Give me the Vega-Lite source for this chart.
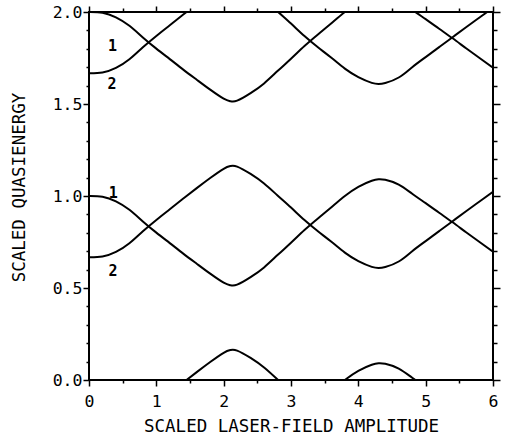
{
  "$schema": "https://vega.github.io/schema/vega-lite/v6.json",
  "width": 404,
  "height": 368,
  "autosize": {"type": "none"},
  "padding": {"left": 89, "top": 12, "right": 13, "bottom": 57},
  "background": "white",
  "config": {
    "view": {"stroke": "black", "strokeWidth": 2},
    "axis": {
      "domain": false, "tickColor": "black", "tickWidth": 1.5,
      "labelFont": "DejaVu Sans Mono", "labelFontSize": 16.5, "labelColor": "black",
      "titleFont": "DejaVu Sans Mono", "titleFontSize": 17.5, "titleFontWeight": "normal", "titleColor": "black",
      "grid": false, "labelOverlap": false, "labelFlush": false
    }
  },
  "datasets": {
    "curves": [
      {"s":"L1","x":0,"y":1.000},{"s":"L1","x":0.2,"y":0.996},{"s":"L1","x":0.4,"y":0.971},{"s":"L1","x":0.6,"y":0.925},{"s":"L1","x":0.8,"y":0.862},{"s":"L1","x":1.0,"y":0.801},{"s":"L1","x":1.2,"y":0.744},{"s":"L1","x":1.4,"y":0.687},{"s":"L1","x":1.6,"y":0.632},{"s":"L1","x":1.8,"y":0.578},{"s":"L1","x":2.0,"y":0.529},{"s":"L1","x":2.1,"y":0.515},{"s":"L1","x":2.2,"y":0.518},{"s":"L1","x":2.4,"y":0.559},{"s":"L1","x":2.6,"y":0.612},{"s":"L1","x":2.8,"y":0.679},{"s":"L1","x":3.0,"y":0.746},{"s":"L1","x":3.2,"y":0.815},{"s":"L1","x":3.4,"y":0.878},{"s":"L1","x":3.6,"y":0.939},{"s":"L1","x":3.8,"y":1.000},{"s":"L1","x":4.0,"y":1.050},{"s":"L1","x":4.2,"y":1.083},{"s":"L1","x":4.3,"y":1.091},{"s":"L1","x":4.4,"y":1.088},{"s":"L1","x":4.6,"y":1.062},{"s":"L1","x":4.8,"y":1.012},{"s":"L1","x":5.0,"y":0.961},{"s":"L1","x":5.2,"y":0.909},{"s":"L1","x":5.4,"y":0.857},{"s":"L1","x":5.6,"y":0.803},{"s":"L1","x":5.8,"y":0.750},{"s":"L1","x":6.0,"y":0.697},
      {"s":"L2","x":0,"y":0.667},{"s":"L2","x":0.2,"y":0.671},{"s":"L2","x":0.4,"y":0.696},{"s":"L2","x":0.6,"y":0.743},{"s":"L2","x":0.8,"y":0.808},{"s":"L2","x":1.0,"y":0.870},{"s":"L2","x":1.2,"y":0.928},{"s":"L2","x":1.4,"y":0.986},{"s":"L2","x":1.6,"y":1.043},{"s":"L2","x":1.8,"y":1.098},{"s":"L2","x":2.0,"y":1.148},{"s":"L2","x":2.1,"y":1.163},{"s":"L2","x":2.2,"y":1.160},{"s":"L2","x":2.4,"y":1.120},{"s":"L2","x":2.6,"y":1.068},{"s":"L2","x":2.8,"y":1.003},{"s":"L2","x":3.0,"y":0.937},{"s":"L2","x":3.2,"y":0.869},{"s":"L2","x":3.4,"y":0.808},{"s":"L2","x":3.6,"y":0.751},{"s":"L2","x":3.8,"y":0.692},{"s":"L2","x":4.0,"y":0.646},{"s":"L2","x":4.2,"y":0.615},{"s":"L2","x":4.3,"y":0.609},{"s":"L2","x":4.4,"y":0.614},{"s":"L2","x":4.6,"y":0.644},{"s":"L2","x":4.8,"y":0.700},{"s":"L2","x":5.0,"y":0.755},{"s":"L2","x":5.2,"y":0.809},{"s":"L2","x":5.4,"y":0.863},{"s":"L2","x":5.6,"y":0.917},{"s":"L2","x":5.8,"y":0.970},{"s":"L2","x":6.0,"y":1.023},
      {"s":"U1","x":0,"y":2.000},{"s":"U1","x":0.2,"y":1.996},{"s":"U1","x":0.4,"y":1.971},{"s":"U1","x":0.6,"y":1.925},{"s":"U1","x":0.8,"y":1.862},{"s":"U1","x":1.0,"y":1.801},{"s":"U1","x":1.2,"y":1.744},{"s":"U1","x":1.4,"y":1.687},{"s":"U1","x":1.6,"y":1.632},{"s":"U1","x":1.8,"y":1.578},{"s":"U1","x":2.0,"y":1.529},{"s":"U1","x":2.1,"y":1.515},{"s":"U1","x":2.2,"y":1.518},{"s":"U1","x":2.4,"y":1.559},{"s":"U1","x":2.6,"y":1.612},{"s":"U1","x":2.8,"y":1.679},{"s":"U1","x":3.0,"y":1.746},{"s":"U1","x":3.2,"y":1.815},{"s":"U1","x":3.4,"y":1.878},{"s":"U1","x":3.6,"y":1.939},{"s":"U1","x":3.8,"y":2.000},{"s":"U1","x":4.0,"y":2.050},{"s":"U1","x":4.2,"y":2.083},{"s":"U1","x":4.3,"y":2.091},{"s":"U1","x":4.4,"y":2.088},{"s":"U1","x":4.6,"y":2.062},{"s":"U1","x":4.8,"y":2.012},{"s":"U1","x":5.0,"y":1.961},{"s":"U1","x":5.2,"y":1.909},{"s":"U1","x":5.4,"y":1.857},{"s":"U1","x":5.6,"y":1.803},{"s":"U1","x":5.8,"y":1.750},{"s":"U1","x":6.0,"y":1.697},
      {"s":"U2","x":0,"y":1.667},{"s":"U2","x":0.2,"y":1.671},{"s":"U2","x":0.4,"y":1.696},{"s":"U2","x":0.6,"y":1.743},{"s":"U2","x":0.8,"y":1.808},{"s":"U2","x":1.0,"y":1.870},{"s":"U2","x":1.2,"y":1.928},{"s":"U2","x":1.4,"y":1.986},{"s":"U2","x":1.6,"y":2.043},{"s":"U2","x":1.8,"y":2.098},{"s":"U2","x":2.0,"y":2.148},{"s":"U2","x":2.1,"y":2.163},{"s":"U2","x":2.2,"y":2.160},{"s":"U2","x":2.4,"y":2.120},{"s":"U2","x":2.6,"y":2.068},{"s":"U2","x":2.8,"y":2.003},{"s":"U2","x":3.0,"y":1.937},{"s":"U2","x":3.2,"y":1.869},{"s":"U2","x":3.4,"y":1.808},{"s":"U2","x":3.6,"y":1.751},{"s":"U2","x":3.8,"y":1.692},{"s":"U2","x":4.0,"y":1.646},{"s":"U2","x":4.2,"y":1.615},{"s":"U2","x":4.3,"y":1.609},{"s":"U2","x":4.4,"y":1.614},{"s":"U2","x":4.6,"y":1.644},{"s":"U2","x":4.8,"y":1.700},{"s":"U2","x":5.0,"y":1.755},{"s":"U2","x":5.2,"y":1.809},{"s":"U2","x":5.4,"y":1.863},{"s":"U2","x":5.6,"y":1.917},{"s":"U2","x":5.8,"y":1.970},{"s":"U2","x":6.0,"y":2.023},
      {"s":"B2","x":1.2,"y":-0.072},{"s":"B2","x":1.4,"y":-0.014},{"s":"B2","x":1.6,"y":0.043},{"s":"B2","x":1.8,"y":0.098},{"s":"B2","x":2.0,"y":0.148},{"s":"B2","x":2.1,"y":0.163},{"s":"B2","x":2.2,"y":0.160},{"s":"B2","x":2.4,"y":0.120},{"s":"B2","x":2.6,"y":0.068},{"s":"B2","x":2.8,"y":0.003},{"s":"B2","x":3.0,"y":-0.063},
      {"s":"B1","x":3.4,"y":-0.122},{"s":"B1","x":3.6,"y":-0.061},{"s":"B1","x":3.8,"y":0.000},{"s":"B1","x":4.0,"y":0.050},{"s":"B1","x":4.2,"y":0.083},{"s":"B1","x":4.3,"y":0.091},{"s":"B1","x":4.4,"y":0.088},{"s":"B1","x":4.6,"y":0.062},{"s":"B1","x":4.8,"y":0.012},{"s":"B1","x":5.0,"y":-0.039},{"s":"B1","x":5.2,"y":-0.091}
    ],
    "labels": [
      {"label":"1","x":0.35,"y":1.813},
      {"label":"2","x":0.34,"y":1.611},
      {"label":"1","x":0.36,"y":1.017},
      {"label":"2","x":0.356,"y":0.595}
    ]
  },
  "layer": [
    {
      "data": {"name": "curves"},
      "mark": {"type": "line", "interpolate": "natural", "clip": true, "strokeWidth": 2, "color": "black"},
      "encoding": {
        "x": {"field": "x", "type": "quantitative", "scale": {"domain": [0, 6], "nice": false, "zero": false},
          "axis": {"orient": "bottom", "values": [0,1,2,3,4,5,6], "format": "d", "ticks": false,
            "labelPadding": 13, "labelBaseline": "top",
            "title": "SCALED LASER-FIELD AMPLITUDE", "titleY": 51, "titleBaseline": "alphabetic"}},
        "y": {"field": "y", "type": "quantitative", "scale": {"domain": [0, 2], "nice": false, "zero": false},
          "axis": {"orient": "left", "values": [0,0.5,1,1.5,2], "format": ".1f", "ticks": false,
            "labelPadding": 7,
            "title": "SCALED QUASIENERGY", "titleX": -70, "titleY": 175, "titleAngle": -90,
            "titleAlign": "center", "titleBaseline": "middle"}},
        "detail": {"field": "s", "type": "nominal"}
      }
    },
    {
      "data": {"name": "labels"},
      "mark": {"type": "text", "font": "DejaVu Sans Mono", "fontSize": 15, "fontWeight": "bold", "color": "black", "align": "center", "baseline": "middle"},
      "encoding": {
        "x": {"field": "x", "type": "quantitative", "axis": null},
        "y": {"field": "y", "type": "quantitative", "axis": null},
        "text": {"field": "label"}
      }
    },
    {
      "data": {"name": "curves"},
      "mark": {"type": "line", "opacity": 0},
      "encoding": {
        "x": {"field": "x", "type": "quantitative",
          "axis": {"orient": "bottom", "values": [0,1,2,3,4,5,6], "labels": false, "title": null, "tickSize": 6}},
        "y": {"field": "y", "type": "quantitative",
          "axis": {"orient": "left", "values": [0,0.5,1,1.5,2], "labels": false, "title": null, "tickSize": 6}},
        "detail": {"field": "s", "type": "nominal"}
      }
    },
    {
      "data": {"name": "curves"},
      "mark": {"type": "line", "opacity": 0},
      "encoding": {
        "x": {"field": "x", "type": "quantitative",
          "axis": {"orient": "bottom", "values": [0.5,1.5,2.5,3.5,4.5,5.5], "labels": false, "title": null, "tickSize": 3}},
        "y": {"field": "y", "type": "quantitative",
          "axis": {"orient": "left", "values": [0.1,0.2,0.3,0.4,0.6,0.7,0.8,0.9,1.1,1.2,1.3,1.4,1.6,1.7,1.8,1.9], "labels": false, "title": null, "tickSize": 3}},
        "detail": {"field": "s", "type": "nominal"}
      }
    },
    {
      "data": {"name": "curves"},
      "mark": {"type": "line", "opacity": 0},
      "encoding": {
        "x": {"field": "x", "type": "quantitative",
          "axis": {"orient": "top", "values": [0,1,2,3,4,5,6], "labels": false, "title": null, "tickSize": 6}},
        "y": {"field": "y", "type": "quantitative",
          "axis": {"orient": "right", "values": [0,0.5,1,1.5,2], "labels": false, "title": null, "tickSize": 7}},
        "detail": {"field": "s", "type": "nominal"}
      }
    },
    {
      "data": {"name": "curves"},
      "mark": {"type": "line", "opacity": 0},
      "encoding": {
        "x": {"field": "x", "type": "quantitative",
          "axis": {"orient": "top", "values": [0.5,1.5,2.5,3.5,4.5,5.5], "labels": false, "title": null, "tickSize": 4}},
        "y": {"field": "y", "type": "quantitative",
          "axis": {"orient": "right", "values": [0.1,0.2,0.3,0.4,0.6,0.7,0.8,0.9,1.1,1.2,1.3,1.4,1.6,1.7,1.8,1.9], "labels": false, "title": null, "tickSize": 4}},
        "detail": {"field": "s", "type": "nominal"}
      }
    }
  ],
  "resolve": {"axis": {"x": "independent", "y": "independent"}}
}
